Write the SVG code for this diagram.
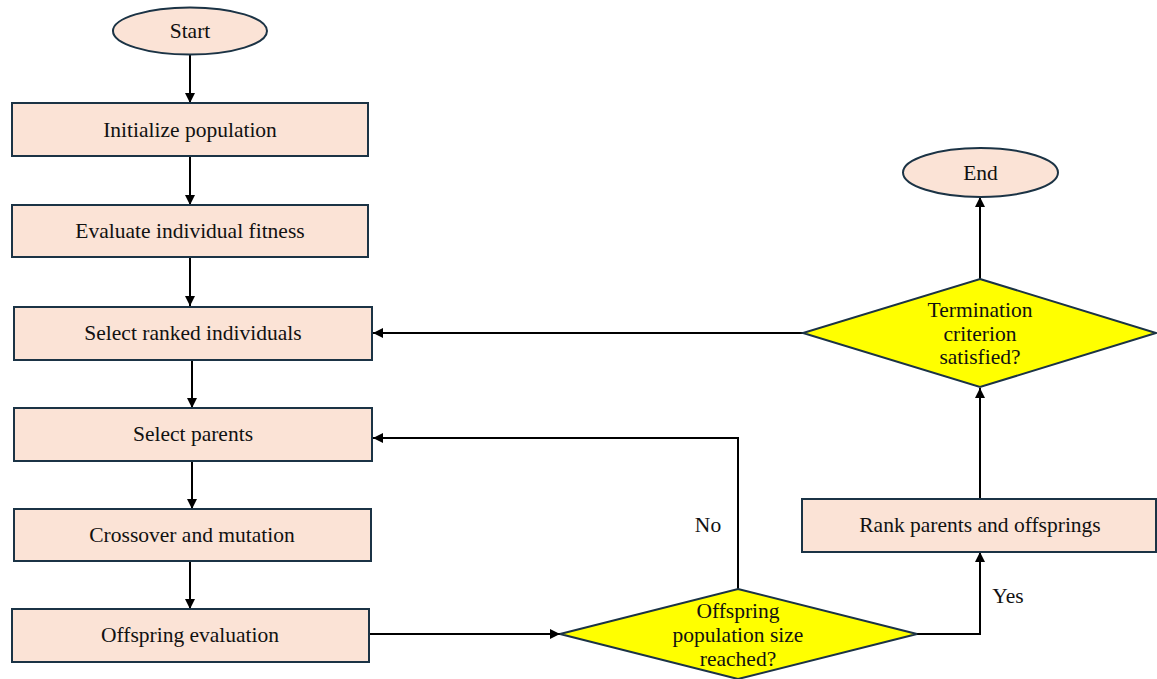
<svg xmlns="http://www.w3.org/2000/svg" width="1157" height="679" viewBox="0 0 1157 679">
  <defs>
    <marker id="arrow" viewBox="0 0 10 10" refX="10" refY="5" markerWidth="5" markerHeight="5" orient="auto" markerUnits="strokeWidth">
      <path d="M0,0 L10,5 L0,10 Z" fill="#000"/>
    </marker>
    <style>
      .proc { fill: #FBE3D6; stroke: #1B3345; stroke-width: 2; }
      .term { fill: #FBE3D6; stroke: #1B3345; stroke-width: 2; }
      .dec { fill: #FFFF00; stroke: #1B3345; stroke-width: 2; }
      .lbl { font-family: "Liberation Serif", "Times New Roman", serif; font-size: 21.5px; fill: #111; text-anchor: middle; dominant-baseline: central; }
      .edge { fill: none; stroke: #000; stroke-width: 2; marker-end: url(#arrow); }
    </style>
  </defs>
  <rect width="1157" height="679" fill="#fff"/>

  <!-- connectors -->
  <g id="connectors">
    <path class="edge" d="M190,54 L190,103"/>
    <path class="edge" d="M190,156 L190,205"/>
    <path class="edge" d="M190,257 L190,306"/>
    <path class="edge" d="M192,360 L192,408"/>
    <path class="edge" d="M192,461 L192,509"/>
    <path class="edge" d="M190,561 L190,609"/>
    <path class="edge" d="M369,634 L560,634"/>
    <path class="edge" d="M738,589 L738,438 L373,438"/>
    <path class="edge" d="M917,634 L980,634 L980,552"/>
    <path class="edge" d="M980,499 L980,388"/>
    <path class="edge" d="M803,333 L373,333"/>
    <path class="edge" d="M980,279 L980,197"/>
    <text class="lbl" x="708" y="525">No</text>
    <text class="lbl" x="1008" y="596">Yes</text>
  </g>

  <g id="start">
    <ellipse class="term" cx="190" cy="31" rx="77" ry="23.5"/>
    <text class="lbl" x="190" y="31">Start</text>
  </g>
  <g id="init">
    <rect class="proc" x="12" y="103" width="356" height="53"/>
    <text class="lbl" x="190" y="130">Initialize population</text>
  </g>
  <g id="evaluate">
    <rect class="proc" x="12" y="205" width="356" height="52"/>
    <text class="lbl" x="190" y="231">Evaluate individual fitness</text>
  </g>
  <g id="select-ranked">
    <rect class="proc" x="14" y="307" width="358" height="53"/>
    <text class="lbl" x="193" y="333">Select ranked individuals</text>
  </g>
  <g id="select-parents">
    <rect class="proc" x="14" y="408" width="358" height="53"/>
    <text class="lbl" x="193" y="434">Select parents</text>
  </g>
  <g id="crossover">
    <rect class="proc" x="14" y="509" width="357" height="52"/>
    <text class="lbl" x="192" y="535">Crossover and mutation</text>
  </g>
  <g id="offspring-eval">
    <rect class="proc" x="12" y="609" width="357" height="53"/>
    <text class="lbl" x="190" y="635">Offspring evaluation</text>
  </g>
  <g id="size-check">
    <polygon class="dec" points="738,589 917,634 738,679 560,634"/>
    <text class="lbl" x="738" y="611">Offspring</text>
    <text class="lbl" x="738" y="635">population size</text>
    <text class="lbl" x="738" y="659">reached?</text>
  </g>
  <g id="rank">
    <rect class="proc" x="802" y="499" width="354" height="53"/>
    <text class="lbl" x="980" y="525">Rank parents and offsprings</text>
  </g>
  <g id="termination">
    <polygon class="dec" points="980,279 1156,333 980,387 803,333"/>
    <text class="lbl" x="980" y="310">Termination</text>
    <text class="lbl" x="980" y="334">criterion</text>
    <text class="lbl" x="980" y="357">satisfied?</text>
  </g>
  <g id="end">
    <ellipse class="term" cx="980.5" cy="172.5" rx="77.5" ry="24.5"/>
    <text class="lbl" x="980.5" y="173">End</text>
  </g>
</svg>
